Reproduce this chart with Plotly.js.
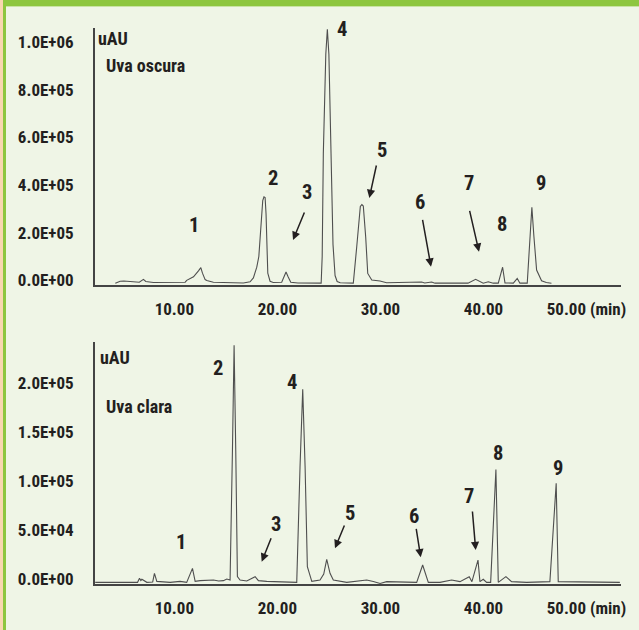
<!DOCTYPE html>
<html>
<head>
<meta charset="utf-8">
<script src="https://cdn.plot.ly/plotly-3.0.1.min.js"></script>
<style>
html,body{margin:0;padding:0;background:#eff5e6;}
#chart{width:639px;height:630px;}
</style>
</head>
<body>
<div id="chart"></div>
<script>
// ---- Data ----
var xTickVals = [10, 20, 30, 40, 50];
var xTickText = ['10.00', '20.00', '30.00', '40.00', '50.00 (min)'];

var topTickVals = [0, 200000, 400000, 600000, 800000, 1000000];
var topTickText = ['0.0E+00', '2.0E+05', '4.0E+05', '6.0E+05', '8.0E+05', '1.0E+06'];

var botTickVals = [0, 50000, 100000, 150000, 200000];
var botTickText = ['0.0E+00', '5.0E+04', '1.0E+05', '1.5E+05', '2.0E+05'];

// Uva oscura (dark grape) chromatogram
var darkTime = [4.27, 4.74, 5.1, 5.4, 6.03, 6.6, 7.0, 7.23, 7.97, 10.56, 11.05, 11.2, 11.86, 12.34, 12.57, 12.73, 12.99, 13.15, 13.79,
  16.7, 17.35, 17.67, 18.0, 18.2, 18.42, 18.58, 18.7, 18.81, 18.9, 18.97, 19.07, 19.29, 19.6,
  20.42, 20.65, 20.84, 21.04, 21.3, 22.0,
  24.25, 24.35, 24.46, 24.7, 24.85, 25.0, 25.21, 25.4, 25.6, 25.8, 26.1,
  27.37, 27.7, 28.05, 28.2, 28.34, 28.57, 28.77, 29.16, 29.96, 30.6,
  33.84, 34.0, 34.3, 34.97, 35.3, 38.5, 39.24, 39.98, 40.47, 40.95,
  41.44, 41.86, 42.09, 42.9, 43.28, 43.54,
  44.25, 44.51, 44.7, 44.9, 45.16, 45.64, 46.1, 46.6];
var darkSignal = [-12000, -4000, -3000, -4000, -9000, -8000, 4000, -5000, -9000, -9000, -8000, 0, 15000, 40000, 53000, 30000, 3000, -1000, -8000,
  -11000, -6000, 10000, 55000, 100000, 250000, 335000, 351000, 348000, 280000, 180000, 30000, -4000, -9000,
  -8000, 20000, 35000, 15000, -8000, -11000,
  -12000, 100000, 534000, 950000, 1055000, 950000, 534000, 150000, 20000, -5000, -10000,
  -12000, 140000, 310000, 318000, 312000, 183000, 29000, 1000, -3000, -10000,
  -9000, -7000, -11000, -7000, -12000, -12000, 4000, -12000, -6000, -12000,
  -12000, 55000, -11000, -12000, 8000, -12000,
  -12000, 183000, 307000, 183000, 43000, -2000, -9000, -12000];

// Uva clara (light grape) chromatogram
var lightTime = [2.32, 6.2, 6.43, 6.62, 6.75, 6.85, 7.33, 7.9, 8.07, 8.3, 9.6, 10.56, 11.2, 11.76, 12.02, 12.5, 13.0, 13.8, 14.3, 14.76, 15.09, 15.35,
  15.41, 15.64, 15.8, 15.96, 16.12, 16.38, 17.03, 17.84, 18.16, 18.97, 21.55,
  21.88, 22.2, 22.46, 22.69, 22.91, 23.34, 24.14, 24.5, 24.79, 25.11, 25.43,
  26.73, 27.37, 28.67, 29.31, 29.97, 30.61, 33.52, 34.1, 34.65, 35.78, 36.91, 37.72,
  38.62, 38.88, 39.47, 39.66, 39.98, 40.31, 40.7, 41.21, 41.44, 42.18, 42.73, 44.19,
  46.45, 47.06, 47.26, 53.24];
var lightSignal = [-3400, -3400, -3400, 700, -1500, -300, -3400, -3000, 5800, -2400, -3400, -2400, -3400, 10900, -2400, -1700, -1200, -1000, -2000, -1700, 0, -1500,
  -1000, 132000, 239000, 132000, 2400, -1000, -2000, 2400, -1700, -2400, -3400,
  -3400, 115000, 194000, 115000, 12600, -2400, -1000, 5000, 20000, 5800, -1000,
  -3400, -2700, -1000, -2500, -4500, -2700, -3400, 14300, -3400, -3400, -1000, -2700,
  2400, -2700, 19400, -2700, -300, -3400, -3400, 112000, -3400, 2400, -2700, -3400,
  -2700, 97800, -2700, -3400];

var peakLabels = ['1', '2', '3', '4', '5', '6', '7', '8', '9'];

// ---- Layout helpers (pixel -> paper) ----
var W = 639, H = 630;
function px(x) { return x / W; }
function py(y) { return 1 - y / H; }

var FONT = "'Liberation Sans Narrow', 'Arial Narrow', 'Roboto Condensed', 'DejaVu Sans Condensed', sans-serif";
var TXT = '#231f20';
var LINE = '#4f4f4f';
var AXIS = '#444444';

var traces = [
  {x: darkTime, y: darkSignal, xaxis: 'x', yaxis: 'y', type: 'scatter', mode: 'lines',
   line: {color: LINE, width: 1.1}, hoverinfo: 'skip'},
  {x: lightTime, y: lightSignal, xaxis: 'x2', yaxis: 'y2', type: 'scatter', mode: 'lines',
   line: {color: LINE, width: 1.1}, hoverinfo: 'skip'}
];

var tickFont = {family: FONT, size: 17, color: TXT, weight: 700};

function xAxis(anchor) {
  return {
    domain: [px(95), px(621)], range: [2.3, 53.35], anchor: anchor,
    showline: true, linecolor: AXIS, linewidth: 2, showgrid: false, zeroline: false,
    tickmode: 'array', tickvals: xTickVals, ticktext: xTickText, ticks: '',
    ticklabelstandoff: 8, tickfont: tickFont
  };
}
function yAxis(anchor, dom, rng, tv, tt) {
  return {
    domain: dom, range: rng, anchor: anchor,
    showline: true, linecolor: AXIS, linewidth: 2, showgrid: false, zeroline: false,
    tickmode: 'array', tickvals: tv, ticktext: tt, ticks: '',
    ticklabelstandoff: 16, tickfont: tickFont
  };
}

var annotations = [];
function label(text, x, y, size, anchor) {
  annotations.push({xref: 'paper', yref: 'paper', x: px(x), y: py(y), text: text, showarrow: false,
    xanchor: anchor || 'center', yanchor: 'middle',
    font: {family: FONT, size: size, color: TXT, weight: 700}});
}
function arrow(tx, ty, hx, hy) {
  annotations.push({xref: 'paper', yref: 'paper', x: px(hx), y: py(hy), ax: tx - hx, ay: ty - hy,
    text: '', showarrow: true, arrowhead: 2, arrowsize: 1.1, arrowwidth: 1.5, arrowcolor: TXT});
}

// Top panel texts
label('uAU', 96, 38, 18, 'left');
label('Uva oscura', 104, 66, 18, 'left');
var topPos = [[194.3, 225], [273, 178], [307, 192], [341.7, 29], [381.7, 150], [420, 201.7], [469, 182.7], [501.7, 224], [540.7, 182.7]];
topPos.forEach(function (p, i) { label(peakLabels[i], p[0], p[1], 20.5); });
arrow(305, 211, 293, 240);
arrow(376.7, 164, 369.3, 198);
arrow(422.3, 218.3, 431, 266.7);
arrow(469.3, 209.3, 479, 251.7);

// Bottom panel texts
label('uAU', 98, 357, 18, 'left');
label('Uva clara', 104, 406, 18, 'left');
var botPos = [[180.7, 542], [218, 368], [276, 524], [291.7, 382], [350, 513], [414.3, 516], [469, 496], [498.3, 453.3], [557.7, 468.3]];
botPos.forEach(function (p, i) { label(peakLabels[i], p[0], p[1], 20.5); });
arrow(271.7, 536.7, 261.7, 561.7);
arrow(345, 524, 335, 548.3);
arrow(416, 527.3, 420.7, 557.3);
arrow(472.3, 510, 475.7, 550);

var shapes = [
  {type: 'rect', xref: 'paper', yref: 'paper', x0: 0, x1: 1, y0: py(6), y1: 1, fillcolor: '#8dc63f', line: {width: 0}, layer: 'below'},
  {type: 'rect', xref: 'paper', yref: 'paper', x0: 0, x1: 1, y0: py(7), y1: py(6), fillcolor: '#c9e3a4', line: {width: 0}, layer: 'below'},
  {type: 'rect', xref: 'paper', yref: 'paper', x0: 0, x1: px(3), y0: 0, y1: 1, fillcolor: '#f8d6b0', line: {width: 0}, layer: 'below'},
  {type: 'rect', xref: 'paper', yref: 'paper', x0: px(3), x1: px(6), y0: 0, y1: py(6), fillcolor: '#8dc63f', line: {width: 0}, layer: 'below'}
];

var layout = {
  width: W, height: H,
  margin: {l: 0, r: 0, t: 0, b: 0, pad: 0},
  paper_bgcolor: '#eff5e6', plot_bgcolor: 'rgba(0,0,0,0)',
  showlegend: false,
  xaxis: xAxis('y'),
  yaxis: yAxis('x', [py(285), py(28)], [-19700, 1060000], topTickVals, topTickText),
  xaxis2: xAxis('y2'),
  yaxis2: yAxis('x2', [py(584), py(342)], [-5100, 242300], botTickVals, botTickText),
  annotations: annotations,
  shapes: shapes
};

Plotly.newPlot('chart', traces, layout, {displayModeBar: false, staticPlot: true});
</script>
</body>
</html>
